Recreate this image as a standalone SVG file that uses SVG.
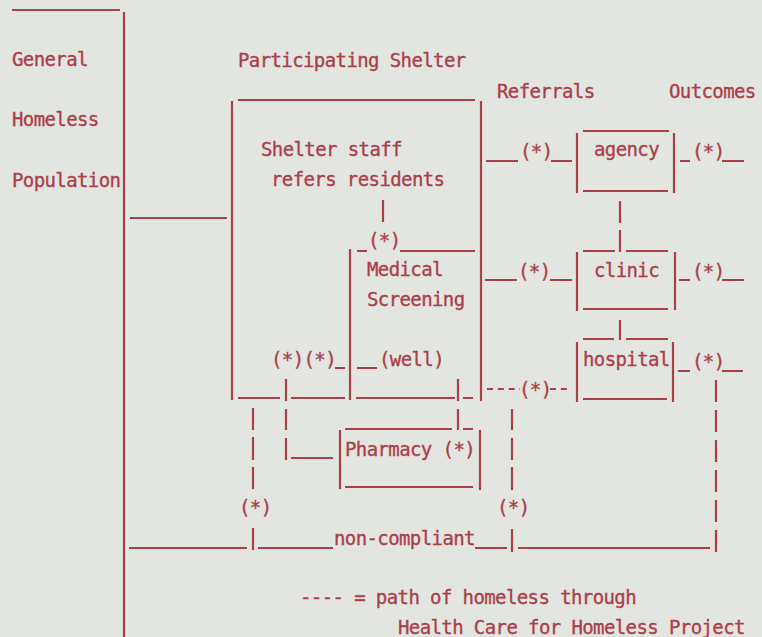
<svg xmlns="http://www.w3.org/2000/svg" width="762" height="637" viewBox="0 0 762 637">
<style>
text{font-family:"DejaVu Sans Mono","Liberation Mono",monospace;font-size:19px;letter-spacing:-0.6px;fill:#ab3f4a;stroke:#ab3f4a;stroke-width:0.35}
.l{stroke:#ab3f4a;stroke-width:2.2;fill:none}
.d{stroke:#ab3f4a;stroke-width:2.2;fill:none;stroke-dasharray:6 4.84}
</style>
<rect width="762" height="637" fill="#e3e5e1"/>
<g id="general-population">
<path class="l" d="M12 10H120M124 12V637"/>
<text x="12" y="66">General</text>
<text x="12" y="126">Homeless</text>
<text x="12" y="187">Population</text>
</g>
<g id="shelter">
<path class="l" d="M238 100H475M232 101V400M481 101V401M238 398H280M291 398H345M356 398H455M463 398H473"/>
<text x="238" y="67">Participating Shelter</text>
<text x="261" y="156">Shelter staff</text>
<text x="271" y="186">refers residents</text>
</g>
<g id="medical-screening">
<path class="l" d="M357 251H367M400 251H475M350 249V400"/>
<text x="368" y="247">(*)</text>
<text x="367" y="276">Medical</text>
<text x="367" y="306">Screening</text>
<text x="379" y="366">(well)</text>
</g>
<g id="pharmacy">
<path class="l" d="M345 429H452M340 430V489M480 430V490M345 487H473"/>
<text x="345" y="456">Pharmacy (*)</text>
</g>
<g id="agency">
<path class="l" d="M583 131H669M577 133V193M674 133V193M583 191H668"/>
<text x="594" y="156">agency</text>
</g>
<g id="clinic">
<path class="l" d="M583 251H615M626 251H668M577 252V311M675 252V310M583 309H668"/>
<text x="594" y="277">clinic</text>
</g>
<g id="hospital">
<path class="l" d="M583 339H614M626 339H668M577 342V402M673 342V402M583 399H667"/>
<text x="583" y="366">hospital</text>
</g>
<g id="headings">
<text x="497" y="98">Referrals</text>
<text x="669" y="98">Outcomes</text>
</g>
<g id="connectors">
<path class="l" d="M130 218H227"/>
<path class="l" d="M383 200V222"/>
<path class="l" d="M335 368H345M357 368H377M286 379V401M458 379V401"/>
<text x="271" y="366">(*)(*)</text>
<path class="l" d="M253 408V430M253 437V460M253 467V489M253 528V550"/>
<text x="239" y="514">(*)</text>
<path class="l" d="M286 409V430M286 438V460M291 458H333"/>
<path class="l" d="M458 409V430M463 429H473"/>
<path class="l" d="M512 409V430M512 438V460M512 467V490M512 529V552"/>
<text x="497" y="514">(*)</text>
<path class="l" d="M129 548H247M258 548H333M475 548H507M518 548H710"/>
<text x="334" y="545">non-compliant</text>
<path class="l" d="M716 380V402M716 410V432M716 440V462M716 470V492M716 500V522M716 530V552"/>
<path class="l" d="M486 161H518M551 161H572M680 161H690M722 161H744"/>
<text x="520" y="158">(*)</text>
<text x="692" y="158">(*)</text>
<path class="l" d="M620 201V223M620 230V252"/>
<path class="l" d="M485 280H517M550 280H572M679 280H690M722 280H744"/>
<text x="518" y="278">(*)</text>
<text x="692" y="278">(*)</text>
<path class="l" d="M620 320V340"/>
<path class="l" d="M678 371H690M722 371H743"/>
<text x="692" y="368">(*)</text>
<path class="d" d="M487 389H520M550 389H570"/>
<text x="519" y="396">(*)</text>
</g>
<g id="legend">
<text x="300" y="604">---- = path of homeless through</text>
<text x="398" y="634">Health Care for Homeless Project</text>
</g>
</svg>
